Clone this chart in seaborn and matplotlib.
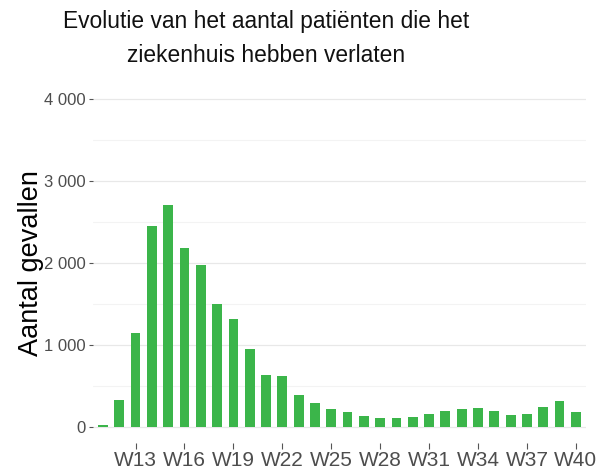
import matplotlib
matplotlib.use("Agg")
import matplotlib.pyplot as plt
import seaborn as sns
from matplotlib.ticker import FuncFormatter, MultipleLocator

# Data
weken = [f"W{w}" for w in range(11, 41)]
aantal = [15, 330, 1150, 2450, 2710, 2185, 1975, 1500, 1315, 955,
          635, 620, 390, 295, 215, 175, 135, 105, 100, 120,
          150, 190, 215, 232, 190, 148, 155, 243, 318, 178]
tick_labels = [f"W{w}" for w in range(13, 41, 3)]

sns.set_theme(style="whitegrid")
plt.rcParams["font.family"] = ["Liberation Sans", "DejaVu Sans"]

fig = plt.figure(figsize=(6.11, 4.73), dpi=100)
ax = fig.add_axes([0.1517, 0.0634, 0.959 - 0.1517, 0.8245 - 0.0634])

sns.barplot(x=weken, y=aantal, color="#3BB54A", width=0.6, saturation=1,
            ax=ax, edgecolor="none")

ax.set_xlim(-0.63, 29.62)
ax.set_ylim(-200, 4200)
ax.yaxis.set_major_locator(MultipleLocator(1000))
ax.yaxis.set_minor_locator(MultipleLocator(500))
ax.yaxis.set_major_formatter(FuncFormatter(lambda v, p: f"{int(v):,}".replace(",", " ")))

ax.set_xticks([weken.index(t) for t in tick_labels])
ax.set_xticklabels(tick_labels)

ax.grid(False, axis="x")
ax.grid(True, axis="y", which="major", color="#e8e8e8", linewidth=0.9)
ax.grid(True, axis="y", which="minor", color="#f3f3f3", linewidth=0.8)
for s in ax.spines.values():
    s.set_visible(False)

ax.tick_params(axis="x", which="major", length=4, width=0.8, color="#555555",
               labelsize=15, labelcolor="#4d4d4d", pad=2, bottom=True)
ax.tick_params(axis="y", which="major", length=3, width=0.8, color="#555555",
               labelsize=12, labelcolor="#4d4d4d", pad=2, left=True)
ax.tick_params(axis="y", which="minor", length=0)

ax.set_xlabel("")
ax.set_ylabel("Aantal gevallen", fontsize=19.5, color="black", labelpad=0)

fig.text(0.435, 0.978, "Evolutie van het aantal patiënten die het\nziekenhuis hebben verlaten",
         ha="center", va="top", fontsize=16.4, linespacing=1.6, color="#111111")

plt.savefig("out.png", dpi=100)
plt.close()
